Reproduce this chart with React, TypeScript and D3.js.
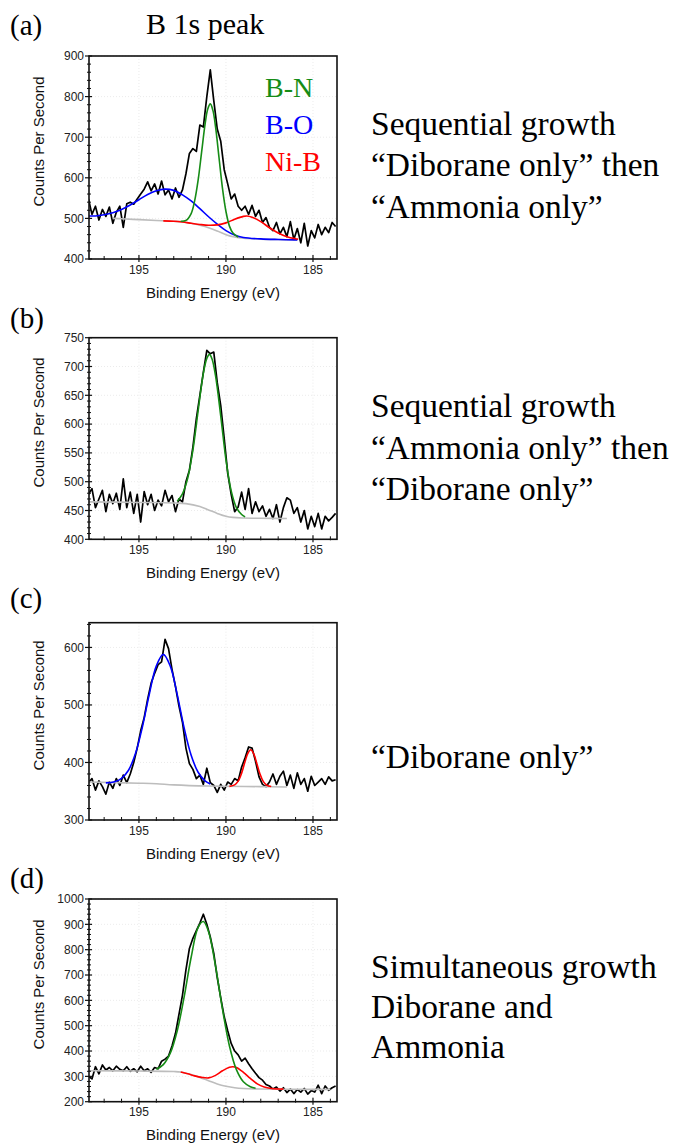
import React from "react";
import * as d3 from "d3";

// ---------- DATA ----------
const energyGrid = [
  197.9, 197.7, 197.5, 197.3, 197.1, 196.9, 196.7, 196.5, 196.3, 196.1,
  195.9, 195.7, 195.5, 195.3, 195.1, 194.9, 194.7, 194.5, 194.3, 194.1,
  193.9, 193.7, 193.5, 193.3, 193.1, 192.9, 192.7, 192.5, 192.3, 192.1,
  191.9, 191.7, 191.5, 191.3, 191.1, 190.9, 190.7, 190.5, 190.3, 190.1,
  189.9, 189.7, 189.5, 189.3, 189.1, 188.9, 188.7, 188.5, 188.3, 188.1,
  187.9, 187.7, 187.5, 187.3, 187.1, 186.9, 186.7, 186.5, 186.3, 186.1,
  185.9, 185.7, 185.5, 185.3, 185.1, 184.9, 184.7, 184.5, 184.3, 184.1,
  183.9, 183.7,
];

const countsA = [
  548, 510, 530, 496, 522, 505, 528, 488, 515, 530,
  478, 536, 540, 535, 548, 560, 572, 590, 568, 585,
  560, 592, 558, 570, 548, 575, 552, 570, 610, 660,
  672, 665, 730, 725, 800, 866, 790, 720, 690, 620,
  585, 548, 560, 530, 520, 530, 510, 532, 505, 520,
  490, 502, 478, 470, 490, 462, 478, 455, 492, 448,
  475, 440, 488, 432, 470, 452, 485, 460, 478, 465,
  490, 480,
];

const countsB = [
  478, 488, 455, 470, 485, 448, 478, 462, 480, 452,
  505, 455, 482, 445, 478, 430, 483, 460, 478, 450,
  468, 458, 485, 465, 476, 448, 470, 465, 500, 520,
  560, 610, 650, 690, 728, 722, 725, 672, 632, 575,
  515, 478, 448, 456, 482, 452, 488, 445, 465, 448,
  458, 440, 452, 436, 460, 430, 455, 472, 468, 445,
  455, 430, 450, 418, 440, 422, 445, 418, 440, 432,
  438, 445,
];

const countsC = [
  365, 372, 352, 368, 358, 345, 366, 355, 372, 360,
  378, 365, 380, 400, 425, 455, 478, 510, 538, 555,
  570, 575, 614, 598, 562, 532, 498, 470, 425, 398,
  388, 372, 378, 362, 390, 365, 360, 348, 362, 352,
  366, 362, 372, 368, 392, 408, 427, 425, 402, 375,
  362, 358, 366, 380, 362, 376, 385, 360, 378, 355,
  382, 362, 372, 350, 376, 360, 366, 372, 362, 375,
  368, 370,
];

const countsD = [
  300, 290, 338, 310, 345, 325, 335, 322, 340, 328,
  322, 338, 320, 330, 318, 340, 322, 330, 316, 335,
  330, 360, 368, 380, 420, 470, 545, 620, 720, 805,
  845, 875, 905, 940, 900, 850, 785, 690, 610, 535,
  480, 430, 400, 385, 360, 372, 350, 330, 312, 295,
  285, 268, 262, 250, 258, 242, 255, 236, 250, 232,
  248, 238, 252, 230, 244, 238, 265, 232, 262, 245,
  255, 262,
];

// fitted components: [binding energy, counts]
const bgA: [number, number][] = [
  [196.5, 500], [196, 499], [195, 497], [194, 495], [193, 493], [192.6, 492], [192, 488],
  [191.5, 483], [191, 477], [190.5, 469], [190, 460], [189.5, 454], [189, 451],
  [188, 449], [187, 448], [185.9, 447],
];
const bnA: [number, number][] = [
  [192.6, 493], [192.3, 495], [192.0, 512], [191.8, 543], [191.6, 594], [191.4, 663],
  [191.2, 732], [191.05, 769], [190.9, 782], [190.75, 766], [190.6, 726], [190.4, 650],
  [190.2, 574], [190.0, 517], [189.8, 481], [189.6, 464], [189.3, 454],
];
const boA: [number, number][] = [
  [197.87, 506], [197.5, 506], [197, 509], [196.5, 514], [196, 522], [195.5, 533],
  [195, 546], [194.5, 559], [194, 568], [193.5, 572], [193, 569], [192.5, 558],
  [192, 543], [191.5, 524], [191, 504], [190.5, 486], [190, 470], [189.5, 459],
  [189, 453], [188, 449.5], [187, 448], [185.9, 447],
];
const nibA: [number, number][] = [
  [193.6, 494], [193, 493], [192.5, 491], [192, 488], [191.5, 485], [191, 483],
  [190.5, 484], [190, 489], [189.5, 498], [189, 505], [188.8, 506], [188.5, 503],
  [188, 492], [187.5, 477], [187, 464], [186.5, 455], [186, 450], [185.85, 449],
];

const bgB: [number, number][] = [
  [197.87, 465], [195, 464], [193, 463], [192.3, 462], [191.5, 457], [191, 451],
  [190.5, 445], [190, 440], [189.6, 438], [189, 437], [188, 436.5], [186.5, 436],
];
const bnB: [number, number][] = [
  [192.8, 466], [192.5, 479], [192.2, 506], [191.9, 555], [191.6, 623], [191.3, 688],
  [191.1, 714], [190.95, 721], [190.8, 713], [190.6, 684], [190.3, 614], [190.0, 538],
  [189.7, 484], [189.4, 455], [189.1, 443], [188.9, 439],
];

const bgC: [number, number][] = [
  [197.87, 366], [195, 364], [194, 363], [193, 361], [191, 359], [188, 358], [186.5, 357.5],
];
const boC: [number, number][] = [
  [196.9, 364.5], [196.4, 366.5], [196.0, 372.5], [195.6, 386.5], [195.2, 415.5],
  [194.8, 462], [194.4, 519.5], [194.0, 568], [193.6, 588], [193.2, 567.5],
  [192.8, 518], [192.4, 459.5], [192.0, 412.5], [191.6, 383], [191.2, 368], [190.9, 362.5],
];
const nibC: [number, number][] = [
  [189.8, 358.5], [189.5, 361], [189.3, 367.5], [189.1, 381.5], [188.9, 402],
  [188.75, 415.5], [188.58, 422], [188.4, 414.7], [188.25, 400.6], [188.05, 380.4],
  [187.85, 366.7], [187.65, 360.5], [187.4, 358.3],
];

const bgD: [number, number][] = [
  [197.87, 322], [195, 321], [193, 319], [192.6, 317], [192, 307], [191.5, 296],
  [191, 283], [190.5, 270], [190, 261], [189.5, 255], [189, 252], [188, 250],
  [186, 249], [184.0, 248.5],
];
const bnD: [number, number][] = [
  [194.0, 328], [193.6, 346.5], [193.2, 391.5], [192.8, 480], [192.4, 615], [192.0, 770],
  [191.6, 888], [191.3, 911], [191.0, 871], [190.6, 735], [190.2, 565], [189.8, 420],
  [189.4, 326.5], [189.0, 278.5], [188.6, 259], [188.3, 253],
];
const nibD: [number, number][] = [
  [192.6, 317], [192.2, 310], [191.8, 302], [191.4, 296], [191.0, 294], [190.6, 304],
  [190.2, 322], [189.8, 336], [189.6, 338], [189.4, 335], [189.0, 316], [188.6, 291.6],
  [188.2, 270.5], [187.8, 258], [187.4, 252], [187.0, 250], [186.7, 249.5],
];

const panelLetters = ["(a)", "(b)", "(c)", "(d)"];
const xMajorTicks = [195, 190, 185];
const xMinorTicks = [197, 196, 194, 193, 192, 191, 189, 188, 187, 186, 184];
const legendLabels = ["B-N", "B-O", "Ni-B"];
const descriptions = [
  ["Sequential growth", "\u201cDiborane only\u201d then", "\u201cAmmonia only\u201d"],
  ["Sequential growth", "\u201cAmmonia only\u201d then", "\u201cDiborane only\u201d"],
  ["\u201cDiborane only\u201d"],
  ["Simultaneous growth", "Diborane and", "Ammonia"],
];

// ---------- STYLE ----------
const GREEN = "#168c16";
const BLUE = "#0000ff";
const RED = "#ff0000";
const GRAY = "#bdbdbd";
const SANS = "'Liberation Sans', Arial, Helvetica, sans-serif";
const SERIF = "'Liberation Serif', 'Times New Roman', Times, serif";

type Fit = { pts: [number, number][]; color: string };
type PanelDef = {
  top: number;
  bottom: number;
  yDomain: [number, number];
  major: number;
  minor: number;
  counts: number[];
  bg: [number, number][];
  fits: Fit[];
  letterY: number;
  textY: number[];
};

const panels: PanelDef[] = [
  {
    top: 56, bottom: 259, yDomain: [400, 900], major: 100, minor: 20, counts: countsA, bg: bgA,
    fits: [{ pts: boA, color: BLUE }, { pts: nibA, color: RED }, { pts: bnA, color: GREEN }],
    letterY: 35, textY: [134.5, 176, 217.5],
  },
  {
    top: 337.7, bottom: 539.3, yDomain: [400, 750], major: 50, minor: 10, counts: countsB, bg: bgB,
    fits: [{ pts: bnB, color: GREEN }],
    letterY: 328, textY: [417, 458.5, 500],
  },
  {
    top: 622.7, bottom: 820, yDomain: [300, 643], major: 100, minor: 20, counts: countsC, bg: bgC,
    fits: [{ pts: boC, color: BLUE }, { pts: nibC, color: RED }],
    letterY: 608, textY: [768],
  },
  {
    top: 899, bottom: 1101.7, yDomain: [200, 1000], major: 100, minor: 20, counts: countsD, bg: bgD,
    fits: [{ pts: nibD, color: RED }, { pts: bnD, color: GREEN }],
    letterY: 888, textY: [978, 1018, 1058],
  },
];

const LEFT = 89;
const RIGHT = 337;

function Panel({ p, idx }: { p: PanelDef; idx: number }) {
  const x = d3.scaleLinear().domain([197.87, 183.62]).range([LEFT, RIGHT]);
  const y = d3.scaleLinear().domain(p.yDomain).range([p.bottom, p.top]);
  const dataLine = d3
    .line<number>()
    .x((_, i) => x(energyGrid[i]))
    .y((d) => y(d));
  const fitLine = d3
    .line<[number, number]>()
    .x((d) => x(d[0]))
    .y((d) => y(d[1]))
    .curve(d3.curveCatmullRom.alpha(0.5));

  const yMajor = d3.range(p.yDomain[0], p.yDomain[1] + 0.01, p.major);
  const yMinor = d3
    .range(p.yDomain[0], p.yDomain[1] + 0.01, p.minor)
    .filter((v) => Math.abs(v / p.major - Math.round(v / p.major)) > 1e-6);
  const clipId = `clip-${idx}`;
  const midY = (p.top + p.bottom) / 2;

  return (
    <g>
      <defs>
        <clipPath id={clipId}>
          <rect x={LEFT} y={p.top} width={RIGHT - LEFT} height={p.bottom - p.top} />
        </clipPath>
      </defs>
      {/* faint grid */}
      {yMajor.map((v) => (
        <line key={`g${v}`} x1={LEFT} x2={RIGHT} y1={y(v)} y2={y(v)} stroke="#e6e6e6" strokeWidth={0.8} strokeDasharray="1,2" />
      ))}
      {xMajorTicks.map((v) => (
        <line key={`gx${v}`} x1={x(v)} x2={x(v)} y1={p.top} y2={p.bottom} stroke="#e6e6e6" strokeWidth={0.8} strokeDasharray="1,2" />
      ))}
      <g clipPath={`url(#${clipId})`}>
        <path d={dataLine(p.counts) || ""} fill="none" stroke="#000" strokeWidth={1.7} strokeLinejoin="round" />
        <path d={fitLine(p.bg) || ""} fill="none" stroke={GRAY} strokeWidth={1.6} />
        {p.fits.map((f, i) => (
          <path key={i} d={fitLine(f.pts) || ""} fill="none" stroke={f.color} strokeWidth={1.6} />
        ))}
      </g>
      {/* box */}
      <rect x={LEFT} y={p.top} width={RIGHT - LEFT} height={p.bottom - p.top} fill="none" stroke="#111" strokeWidth={1.6} />
      {/* y ticks */}
      {yMajor.map((v) => (
        <g key={`y${v}`}>
          <line x1={LEFT - 4} x2={LEFT + 3} y1={y(v)} y2={y(v)} stroke="#111" strokeWidth={1.2} />
          <text x={LEFT - 5} y={y(v) + 4.3} textAnchor="end" fontFamily={SANS} fontSize={12} fill="#222">
            {v}
          </text>
        </g>
      ))}
      {yMinor.map((v) => (
        <line key={`ym${v}`} x1={LEFT - 2} x2={LEFT + 2} y1={y(v)} y2={y(v)} stroke="#111" strokeWidth={1} />
      ))}
      {/* x ticks */}
      {xMajorTicks.map((v) => (
        <g key={`x${v}`}>
          <line x1={x(v)} x2={x(v)} y1={p.bottom - 4} y2={p.bottom + 3} stroke="#111" strokeWidth={1.2} />
          <text x={x(v)} y={p.bottom + 14.5} textAnchor="middle" fontFamily={SANS} fontSize={12} fill="#222">
            {v}
          </text>
        </g>
      ))}
      {xMinorTicks.map((v) => (
        <line key={`xm${v}`} x1={x(v)} x2={x(v)} y1={p.bottom - 3} y2={p.bottom + 1} stroke="#111" strokeWidth={1} />
      ))}
      {/* axis titles */}
      <text x={(LEFT + RIGHT) / 2} y={p.bottom + 38.5} textAnchor="middle" fontFamily={SANS} fontSize={15} fill="#111">
        Binding Energy (eV)
      </text>
      <text
        transform={`translate(44, ${midY - 16}) rotate(-90)`}
        textAnchor="middle"
        fontFamily={SANS}
        fontSize={15}
        fill="#111"
      >
        Counts Per Second
      </text>
      {/* panel letter */}
      <text x={10} y={p.letterY} fontFamily={SERIF} fontSize={29} fill="#000">
        {panelLetters[idx]}
      </text>
      {/* description */}
      {descriptions[idx].map((line, i) => (
        <text key={i} x={371} y={p.textY[i]} fontFamily={SERIF} fontSize={33.5} fill="#000">
          {line}
        </text>
      ))}
    </g>
  );
}

export default function App() {
  const legendColors = [GREEN, BLUE, RED];
  const legendY = [97, 134, 170.5];
  return (
    <svg
      width={673}
      height={1143}
      viewBox="0 0 673 1143"
      style={{ position: "absolute", left: 0, top: 0, background: "#fff", display: "block" }}
    >
      <rect x={0} y={0} width={673} height={1143} fill="#fff" />
      <text x={146} y={34} fontFamily={SERIF} fontSize={30} fill="#000">
        B 1s peak
      </text>
      {panels.map((p, i) => (
        <Panel key={i} p={p} idx={i} />
      ))}
      {legendLabels.map((l, i) => (
        <text key={l} x={265} y={legendY[i]} fontFamily={SERIF} fontSize={28} fill={legendColors[i]}>
          {l}
        </text>
      ))}
    </svg>
  );
}
